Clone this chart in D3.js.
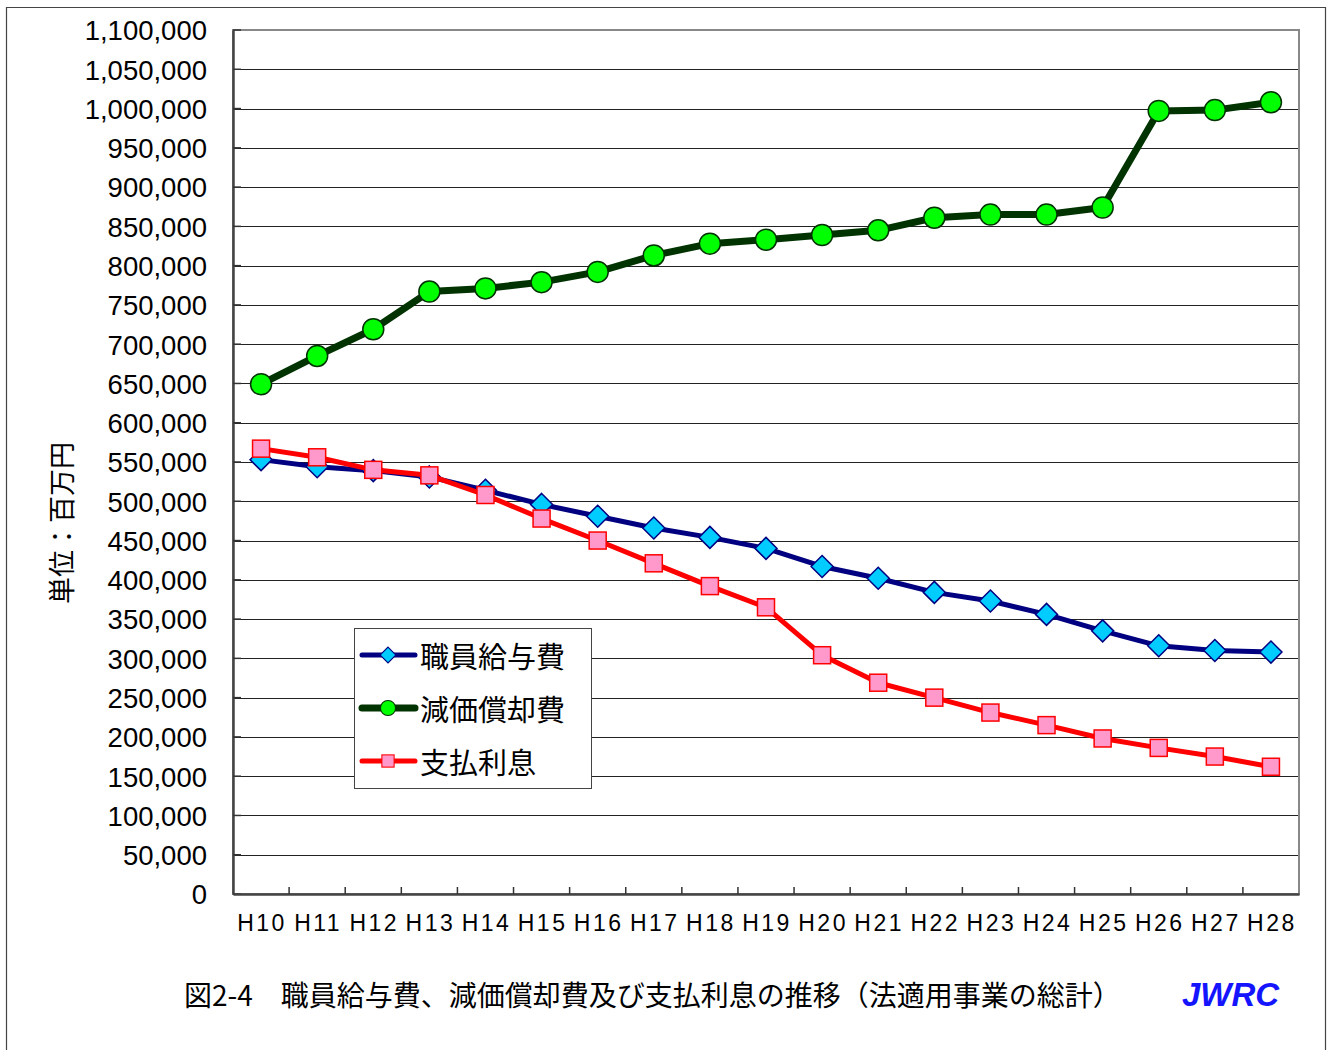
<!DOCTYPE html>
<html><head><meta charset="utf-8">
<script src="https://cdn.jsdelivr.net/npm/d3@7/dist/d3.min.js"></script>
<style>
html,body{margin:0;padding:0;background:#fff;}
svg{display:block;}
</style></head>
<body>
<svg id="chart" width="1332" height="1050"></svg>
<script>
const categories = ["H10","H11","H12","H13","H14","H15","H16","H17","H18","H19","H20","H21","H22","H23","H24","H25","H26","H27","H28"];
const salary = [553000,544000,539000,531000,514000,496000,481000,466000,454000,440000,417000,402000,384000,373000,356000,335000,316000,310000,308000];
const depreciation = [649000,685000,719000,767000,771000,779000,792000,813000,828000,833000,839000,845000,861000,865000,865000,874000,997000,998000,1008000];
const interest = [567000,556000,540000,533000,508000,478000,450000,421000,392000,365000,304000,269000,250000,231000,215000,198000,186000,175000,162000];
const yTicks = d3.range(0, 1100001, 50000);
const seriesNames = ["職員給与費","減価償却費","支払利息"];
const yTitle = "単位：百万円";
const chartTitle = "図2-4　職員給与費、減価償却費及び支払利息の推移（法適用事業の総計）";
const brand = "JWRC";

const svg = d3.select("#chart");
const L = 233, R = 1299, T = 30, B = 894;

const x = d3.scaleBand().domain(categories).range([L, R]).padding(0);
const cx = c => x(c) + x.bandwidth() / 2;
const y = d3.scaleLinear().domain([0, 1100000]).range([B, T]);

// outer frame
svg.append("path").attr("d", "M6.5,1055V7.5H1325.5V1055").attr("fill", "none").attr("stroke", "#444").attr("stroke-width", 1.2);

// gridlines
svg.append("g").selectAll("line").data(yTicks.filter(v => v > 0)).join("line")
  .attr("x1", L).attr("x2", R).attr("y1", d => Math.round(y(d)) + 0.5).attr("y2", d => Math.round(y(d)) + 0.5)
  .attr("stroke", "#222").attr("stroke-width", 1);

// plot border
svg.append("rect").attr("x", L).attr("y", T).attr("width", R - L).attr("height", B - T)
  .attr("fill", "none").attr("stroke", "#888").attr("stroke-width", 2);

// y axis
const yAxis = d3.axisLeft(y).tickValues(yTicks).tickFormat(d3.format(",")).tickSize(0).tickPadding(26);
const gy = svg.append("g").attr("transform", `translate(${L},0)`).call(yAxis);
gy.select(".domain").attr("stroke", "#444").attr("stroke-width", 2.5);
gy.selectAll("text").attr("font-family", "'Liberation Sans', Arial, sans-serif").attr("font-size", 27.5).attr("fill", "#000").attr("dy", "0.36em");
// inner y tick marks
svg.append("g").selectAll("line").data(yTicks).join("line")
  .attr("x1", L).attr("x2", L + 8).attr("y1", d => y(d)).attr("y2", d => y(d))
  .attr("stroke", "#333").attr("stroke-width", 1.5);

// x axis
const xAxis = d3.axisBottom(x).tickSize(0).tickPadding(21);
const gx = svg.append("g").attr("transform", `translate(0,${B})`).call(xAxis);
gx.select(".domain").attr("stroke", "#444").attr("stroke-width", 2.5);
gx.selectAll("text").attr("font-family", "'Liberation Sans', Arial, sans-serif").attr("font-size", 23)
  .attr("letter-spacing", "2.5px").attr("fill", "#000").attr("dx", "1px");
// x tick marks at band boundaries (inside)
svg.append("g").selectAll("line").data(categories.slice(1)).join("line")
  .attr("x1", d => x(d)).attr("x2", d => x(d)).attr("y1", B).attr("y2", B - 7)
  .attr("stroke", "#333").attr("stroke-width", 1.5);

// y title
svg.append("text").attr("transform", "translate(60,523) rotate(-90)")
  .attr("text-anchor", "middle").attr("dominant-baseline", "central")
  .attr("font-family", "'Noto Sans CJK JP', sans-serif").attr("font-size", 27).attr("fill", "#000")
  .text(yTitle);

// series
const line = d3.line().x((d, i) => cx(categories[i])).y(d => y(d));
const diamond = "M0,-11L11,0L0,11L-11,0Z";

function drawSeries(vals, color, width, marker) {
  const g = svg.append("g");
  g.append("path").datum(vals).attr("d", line).attr("fill", "none")
    .attr("stroke", color).attr("stroke-width", width).attr("stroke-linejoin", "round");
  const m = g.selectAll(".m").data(vals).join("g")
    .attr("transform", (d, i) => `translate(${cx(categories[i])},${y(d)})`);
  marker(m);
}
const mkDiamond = s => s.append("path").attr("d", diamond).attr("fill", "#00ccff").attr("stroke", "#000080").attr("stroke-width", 1.5);
const mkCircle = s => s.append("circle").attr("r", 10.5).attr("fill", "#00ff00").attr("stroke", "#003300").attr("stroke-width", 1.5);
const mkSquare = s => s.append("rect").attr("x", -8.5).attr("y", -8.5).attr("width", 17).attr("height", 17).attr("fill", "#ff99cc").attr("stroke", "#ff0000").attr("stroke-width", 1.5);

drawSeries(salary, "#000080", 5, mkDiamond);
drawSeries(depreciation, "#003300", 7, mkCircle);
drawSeries(interest, "#ff0000", 5, mkSquare);

// legend
const lg = svg.append("g");
lg.append("rect").attr("x", 354.5).attr("y", 628.5).attr("width", 237).attr("height", 160)
  .attr("fill", "#fff").attr("stroke", "#444").attr("stroke-width", 1);
const legendRows = [
  {name: seriesNames[0], color: "#000080", w: 5, mk: mkDiamond},
  {name: seriesNames[1], color: "#003300", w: 7, mk: mkCircle},
  {name: seriesNames[2], color: "#ff0000", w: 5, mk: mkSquare}
];
const rowY = [655, 708, 761];
legendRows.forEach((r, i) => {
  const gy2 = lg.append("g").attr("transform", `translate(0,${rowY[i]})`);
  gy2.append("line").attr("x1", 362).attr("x2", 415).attr("stroke", r.color).attr("stroke-width", r.w).attr("stroke-linecap", "round");
  const mg = gy2.append("g").attr("transform", "translate(388,0) scale(0.72)");
  r.mk(mg);
  gy2.append("text").attr("x", 420).attr("dominant-baseline", "central")
    .attr("font-family", "'Noto Sans CJK JP', sans-serif").attr("font-size", 29).attr("fill", "#000")
    .text(r.name);
});

// title
svg.append("text").attr("x", 184).attr("y", 1006)
  .attr("font-family", "'Noto Sans CJK JP', sans-serif").attr("font-size", 28).attr("fill", "#000")
  .text(chartTitle);
svg.append("text").attr("x", 1182).attr("y", 1006)
  .attr("font-family", "'Liberation Sans', Arial, sans-serif").attr("font-size", 33)
  .attr("font-weight", "bold").attr("font-style", "italic").attr("fill", "#1414ff")
  .text(brand);
</script>
</body></html>
